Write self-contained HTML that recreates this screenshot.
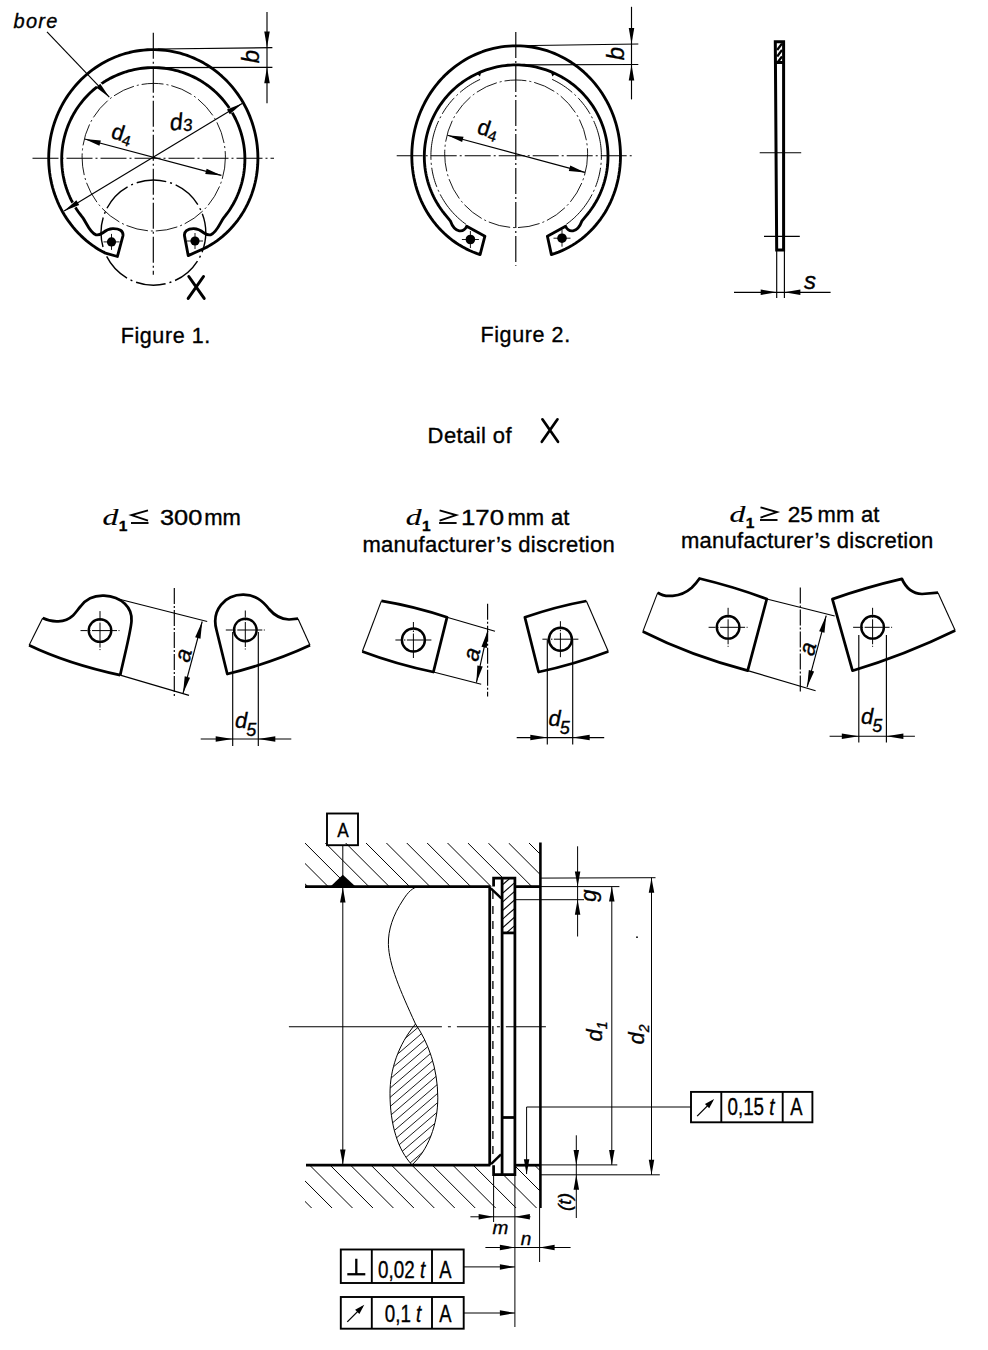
<!DOCTYPE html>
<html><head><meta charset="utf-8"><style>
html,body{margin:0;padding:0;background:#fff;}
svg{display:block;}
text{fill:#000;stroke:#000;stroke-width:0.35px;}
</style></head><body>
<svg width="988" height="1350" viewBox="0 0 988 1350">
<rect width="988" height="1350" fill="#fff"/>
<line x1="153.3" y1="32.8" x2="153.3" y2="274.7" stroke="#000" stroke-width="1.15" stroke-dasharray="26 3 2 3"/>
<line x1="32.5" y1="158.2" x2="274" y2="158.2" stroke="#000" stroke-width="1.15" stroke-dasharray="26 3 2 3"/>
<ellipse cx="153.75" cy="157.2" rx="71.65" ry="73.8" fill="none" stroke="#000" stroke-width="0.9" stroke-dasharray="22 3 2 3"/>
<ellipse cx="153.4" cy="232.6" rx="52.4" ry="52.6" fill="none" stroke="#000" stroke-width="1.4" stroke-dasharray="30 4 2 4" stroke-dashoffset="10"/>
<path d="M204.6,248.3 L204.6,248.3 L207.76,246.62 L210.86,244.81 L213.9,242.88 L216.88,240.82 L219.78,238.64 L222.6,236.34 L225.35,233.93 L228.01,231.4 L230.58,228.77 L233.05,226.03 L235.43,223.2 L237.71,220.27 L239.88,217.24 L241.93,214.13 L243.88,210.94 L245.71,207.67 L247.42,204.32 L249.01,200.91 L250.48,197.43 L251.82,193.9 L253.03,190.31 L254.1,186.68 L255.05,183 L255.86,179.29 L256.53,175.55 L257.07,171.79 L257.47,168 L257.74,164.21 L257.88,160.4 L257.89,156.6 L257.77,152.79 L257.52,148.99 L257.15,145.21 L256.65,141.43 L256.02,137.68 L255.26,133.96 L254.38,130.26 L253.37,126.6 L252.25,122.98 L251,119.4 L249.63,115.87 L248.14,112.39 L246.53,108.97 L244.81,105.61 L242.98,102.31 L241.04,99.08 L238.99,95.92 L236.84,92.84 L234.58,89.84 L232.22,86.93 L229.77,84.1 L227.22,81.36 L224.58,78.72 L221.85,76.17 L219.04,73.73 L216.15,71.39 L213.18,69.16 L210.14,67.03 L207.02,65.02 L203.85,63.12 L200.6,61.34 L197.31,59.68 L193.95,58.14 L190.55,56.72 L187.1,55.43 L183.61,54.26 L180.08,53.22 L176.52,52.31 L172.93,51.53 L169.32,50.88 L165.69,50.36 L162.04,49.98 L158.38,49.73 L154.72,49.61 L151.05,49.63 L147.39,49.77 L143.73,50.06 L140.08,50.47 L136.46,51.02 L132.85,51.7 L129.27,52.51 L125.71,53.45 L122.19,54.51 L118.71,55.71 L115.27,57.03 L111.88,58.48 L108.54,60.05 L105.25,61.73 L102.03,63.54 L98.86,65.47 L95.77,67.5 L92.74,69.65 L89.79,71.91 L86.91,74.28 L84.12,76.74 L81.41,79.31 L78.79,81.98 L76.27,84.73 L73.83,87.58 L71.5,90.52 L69.26,93.53 L67.13,96.63 L65.11,99.81 L63.19,103.05 L61.38,106.36 L59.69,109.74 L58.11,113.18 L56.65,116.67 L55.31,120.21 L54.09,123.8 L52.99,127.43 L52.01,131.1 L51.16,134.8 L50.43,138.53 L49.83,142.29 L49.36,146.07 L49.01,149.86 L48.79,153.66 L48.7,157.46 L48.74,161.27 L48.91,165.07 L49.21,168.87 L49.63,172.65 L50.18,176.41 L50.87,180.15 L51.68,183.86 L52.62,187.54 L53.69,191.18 L54.88,194.78 L56.2,198.33 L57.63,201.83 L59.19,205.27 L60.87,208.65 L62.66,211.96 L64.57,215.2 L66.58,218.37 L68.71,221.46 L70.93,224.47 L73.26,227.39 L75.69,230.22 L78.22,232.95 L80.83,235.59 L83.53,238.13 L86.32,240.56 L89.19,242.89 L92.14,245.1 L95.15,247.2 L98.24,249.19 L101.39,251.05 L104.6,252.8 L117.4,256.5 L122.9,236 C123.8,230.5 119,228.6 112.8,228.7 C108,228.8 105,231 102.8,232.8 C101,234 99,235.5 96,234.8 C90,233 86,222 83.1,218.1 L83.13,218.08 L81.38,215.93 L79.7,213.73 L78.08,211.48 L76.54,209.18 L75.06,206.83 L73.65,204.45 L72.32,202.02 L71.06,199.55 L69.88,197.04 L68.77,194.5 L67.75,191.93 L66.8,189.32 L65.92,186.69 L65.13,184.04 L64.42,181.36 L63.79,178.66 L63.24,175.95 L62.78,173.21 L62.4,170.47 L62.1,167.71 L61.88,164.95 L61.75,162.18 L61.7,159.41 L61.74,156.64 L61.85,153.87 L62.06,151.11 L62.34,148.35 L62.71,145.61 L63.17,142.87 L63.7,140.16 L64.32,137.45 L65.02,134.77 L65.8,132.11 L66.66,129.48 L67.59,126.87 L68.61,124.29 L69.71,121.75 L70.88,119.24 L72.12,116.76 L73.44,114.33 L74.84,111.93 L76.3,109.58 L77.84,107.27 L79.45,105.01 L81.12,102.81 L82.86,100.65 L84.66,98.54 L86.53,96.5 L88.45,94.5 L90.44,92.57 L92.48,90.7 L94.58,88.89 L96.74,87.15 L98.94,85.47 L101.2,83.86 L103.5,82.32 L105.85,80.85 L108.24,79.45 L110.67,78.12 L113.15,76.87 L115.65,75.69 L118.2,74.59 L120.77,73.57 L123.38,72.63 L126.01,71.76 L128.67,70.97 L131.35,70.27 L134.05,69.65 L136.76,69.1 L139.5,68.65 L142.24,68.27 L145,67.98 L147.76,67.77 L150.53,67.64 L153.3,67.6 L156.07,67.64 L158.84,67.77 L161.6,67.98 L164.36,68.27 L167.1,68.65 L169.84,69.1 L172.55,69.65 L175.25,70.27 L177.93,70.97 L180.59,71.76 L183.22,72.63 L185.83,73.57 L188.4,74.59 L190.95,75.69 L193.45,76.87 L195.93,78.12 L198.36,79.45 L200.75,80.85 L203.1,82.32 L205.4,83.86 L207.66,85.47 L209.86,87.15 L212.02,88.89 L214.12,90.7 L216.16,92.57 L218.15,94.5 L220.07,96.5 L221.94,98.54 L223.74,100.65 L225.48,102.81 L227.15,105.01 L228.76,107.27 L230.3,109.58 L231.76,111.93 L233.16,114.33 L234.48,116.76 L235.72,119.24 L236.89,121.75 L237.99,124.29 L239.01,126.87 L239.94,129.48 L240.8,132.11 L241.58,134.77 L242.28,137.45 L242.9,140.16 L243.43,142.87 L243.89,145.61 L244.26,148.35 L244.54,151.11 L244.75,153.87 L244.86,156.64 L244.9,159.41 L244.85,162.18 L244.72,164.95 L244.5,167.71 L244.2,170.47 L243.82,173.21 L243.36,175.95 L242.81,178.66 L242.18,181.36 L241.47,184.04 L240.68,186.69 L239.8,189.32 L238.85,191.93 L237.83,194.5 L236.72,197.04 L235.54,199.55 L234.28,202.02 L232.95,204.45 L231.54,206.83 L230.06,209.18 L228.52,211.48 L226.9,213.73 L225.22,215.93 L223.47,218.08 C220.6,222 216.6,233 210.6,234.8 C207.6,235.5 205.6,234 203.8,232.8 C201.6,231 198.6,228.8 193.8,228.7 C187.6,228.6 183.6,231.5 184.6,236.4 L188.2,255.6 Z" fill="none" stroke="#000" stroke-width="2.85" stroke-linejoin="round"/>
<circle cx="111.5" cy="241.9" r="4.6" fill="#000"/>
<line x1="103.5" y1="241.9" x2="119.5" y2="241.9" stroke="#000" stroke-width="0.9"/>
<line x1="111.5" y1="233.9" x2="111.5" y2="249.9" stroke="#000" stroke-width="0.9"/>
<circle cx="195" cy="241" r="4.6" fill="#000"/>
<line x1="187" y1="241" x2="203" y2="241" stroke="#000" stroke-width="0.9"/>
<line x1="195" y1="233" x2="195" y2="249" stroke="#000" stroke-width="0.9"/>
<line x1="105.1" y1="91.2" x2="95.3" y2="81.2" stroke="#fff" stroke-width="5.5"/>
<line x1="66.01" y1="209.92" x2="77.99" y2="202.68" stroke="#fff" stroke-width="5.5"/>
<line x1="235.79" y1="107.38" x2="223.81" y2="114.62" stroke="#fff" stroke-width="5.5"/>
<line x1="47" y1="31.9" x2="109.3" y2="97.2" stroke="#000" stroke-width="1.15"/>
<polygon points="109.3,97.2 100.25,83.73 96.27,87.52" fill="#000" stroke="none" stroke-width="0"/>
<line x1="84.7" y1="139" x2="221.4" y2="175.4" stroke="#000" stroke-width="1.15"/>
<polygon points="84.7,139 99.45,145.77 100.87,140.46" fill="#000" stroke="none" stroke-width="0"/>
<polygon points="221.4,175.4 206.65,168.63 205.23,173.94" fill="#000" stroke="none" stroke-width="0"/>
<line x1="64.1" y1="211" x2="242.1" y2="103.5" stroke="#000" stroke-width="1.15"/>
<polygon points="64.1,211 79.22,205.08 76.37,200.37" fill="#000" stroke="none" stroke-width="0"/>
<polygon points="242.1,103.5 226.98,109.42 229.83,114.13" fill="#000" stroke="none" stroke-width="0"/>
<line x1="158" y1="49" x2="272.4" y2="47.6" stroke="#000" stroke-width="1.15"/>
<line x1="160" y1="67.6" x2="272.4" y2="67.3" stroke="#000" stroke-width="1.15"/>
<line x1="267" y1="12.1" x2="267" y2="103.2" stroke="#000" stroke-width="1.15"/>
<polygon points="267,47.6 269.75,31.6 264.25,31.6" fill="#000" stroke="none" stroke-width="0"/>
<polygon points="267,67.3 264.25,83.3 269.75,83.3" fill="#000" stroke="none" stroke-width="0"/>
<text x="0" y="0" font-family="Liberation Sans" font-size="24" text-anchor="middle" style="font-style:italic" transform="translate(259,56.5) rotate(-90)">b</text>
<text x="0" y="0" font-family="Liberation Sans" font-size="22" text-anchor="start" style="" transform="translate(110,137.5) rotate(18)">d<tspan font-size="15" dy="3">4</tspan></text>
<text x="0" y="0" font-family="Liberation Sans" font-size="23" text-anchor="start" style="font-style:italic" transform="translate(170.5,130.5) rotate(-6)">d<tspan font-size="17" dy="2">3</tspan></text>
<text x="13.5" y="28" font-family="Liberation Sans" font-size="20" text-anchor="start" style="font-style:italic;letter-spacing:1.3px" >bore</text>
<path d="M188.8,276.5 L204.2,298.4 M203.5,276.5 L188.2,298.4" stroke="#000" stroke-width="3" stroke-linecap="round" fill="none"/>
<line x1="515.8" y1="31.9" x2="515.8" y2="265.8" stroke="#000" stroke-width="1.15" stroke-dasharray="26 3 2 3"/>
<line x1="396.7" y1="155.7" x2="634.3" y2="155.7" stroke="#000" stroke-width="1.15" stroke-dasharray="26 3 2 3"/>
<ellipse cx="516.15" cy="153.8" rx="71.45" ry="73.8" fill="none" stroke="#000" stroke-width="0.9" stroke-dasharray="22 3 2 3"/>
<path d="M551.39,254.58 L551.39,254.58 L554.96,253.42 L558.49,252.11 L561.98,250.65 L565.41,249.04 L568.79,247.28 L572.11,245.38 L575.35,243.33 L578.53,241.14 L581.62,238.81 L584.63,236.36 L587.55,233.77 L590.37,231.06 L593.09,228.22 L595.7,225.27 L598.21,222.21 L600.6,219.04 L602.86,215.77 L605.01,212.41 L607.02,208.95 L608.91,205.41 L610.66,201.79 L612.27,198.09 L613.74,194.33 L615.07,190.51 L616.26,186.64 L617.29,182.72 L618.18,178.75 L618.92,174.76 L619.52,170.74 L619.98,166.69 L620.29,162.63 L620.46,158.57 L620.49,154.5 L620.38,150.43 L620.12,146.36 L619.72,142.31 L619.18,138.28 L618.5,134.27 L617.67,130.3 L616.71,126.35 L615.61,122.45 L614.37,118.59 L613,114.79 L611.49,111.04 L609.86,107.35 L608.09,103.72 L606.2,100.17 L604.19,96.7 L602.05,93.3 L599.8,90 L597.43,86.78 L594.95,83.65 L592.36,80.63 L589.67,77.71 L586.88,74.89 L583.98,72.19 L581,69.6 L577.93,67.13 L574.77,64.78 L571.53,62.56 L568.22,60.46 L564.83,58.49 L561.38,56.66 L557.87,54.96 L554.3,53.41 L550.67,51.99 L547,50.71 L543.29,49.58 L539.54,48.6 L535.75,47.76 L531.94,47.07 L528.11,46.52 L524.26,46.13 L520.4,45.89 L516.54,45.8 L512.67,45.86 L508.81,46.07 L504.96,46.43 L501.13,46.95 L497.31,47.61 L493.52,48.41 L489.76,49.37 L486.04,50.47 L482.36,51.72 L478.73,53.11 L475.15,54.64 L471.62,56.31 L468.16,58.11 L464.76,60.05 L461.43,62.12 L458.17,64.32 L455,66.65 L451.91,69.09 L448.91,71.66 L446,74.34 L443.18,77.13 L440.47,80.03 L437.86,83.04 L435.36,86.14 L432.97,89.34 L430.69,92.63 L428.53,96.01 L426.49,99.47 L424.58,103.01 L422.79,106.61 L421.12,110.29 L419.59,114.03 L418.19,117.82 L416.93,121.67 L415.8,125.57 L414.81,129.5 L413.96,133.47 L413.24,137.47 L412.67,141.5 L412.25,145.55 L411.96,149.61 L411.82,153.68 L411.82,157.75 L411.96,161.82 L412.25,165.88 L412.68,169.92 L413.25,173.95 L413.96,177.95 L414.82,181.92 L415.83,185.85 L416.98,189.74 L418.28,193.57 L419.72,197.34 L421.3,201.05 L423.02,204.69 L424.88,208.25 L426.86,211.73 L428.98,215.12 L431.22,218.41 L433.58,221.61 L436.05,224.7 L438.64,227.68 L441.33,230.54 L444.12,233.29 L447.02,235.91 L450,238.41 L453.07,240.78 L456.23,243.01 L459.46,245.1 L462.76,247.05 L466.12,248.86 L469.54,250.52 L473.02,252.03 L476.54,253.4 L480.1,254.61 L484.9,236.2 L466.7,226.3 C464,232.5 455,234 450.3,220.8 L445.8,215.4 L445.79,215.38 L444.04,213.23 L442.35,211.03 L440.73,208.78 L439.18,206.48 L437.7,204.13 L436.29,201.75 L434.95,199.32 L433.69,196.85 L432.5,194.34 L431.39,191.8 L430.36,189.23 L429.41,186.62 L428.54,183.99 L427.74,181.34 L427.03,178.66 L426.4,175.96 L425.85,173.25 L425.38,170.51 L425,167.77 L424.7,165.01 L424.48,162.25 L424.35,159.48 L424.3,156.71 L424.34,153.94 L424.46,151.17 L424.66,148.41 L424.95,145.65 L425.32,142.91 L425.77,140.17 L426.31,137.46 L426.93,134.75 L427.63,132.07 L428.41,129.41 L429.27,126.78 L430.21,124.17 L431.23,121.59 L432.33,119.05 L433.5,116.54 L434.75,114.06 L436.08,111.63 L437.47,109.23 L438.94,106.88 L440.48,104.57 L442.09,102.31 L443.77,100.11 L445.51,97.95 L447.32,95.84 L449.19,93.8 L451.13,91.8 L453.12,89.87 L455.17,88 L457.27,86.19 L459.43,84.45 L461.64,82.77 L463.91,81.16 L466.21,79.62 L468.57,78.15 L470.97,76.75 L473.41,75.42 L475.89,74.17 L478.4,72.99 L480.95,71.89 L483.53,70.87 L486.15,69.93 L488.79,69.06 L491.45,68.27 L494.14,67.57 L496.84,66.95 L499.57,66.4 L502.31,65.95 L505.06,65.57 L507.83,65.28 L510.6,65.07 L513.37,64.94 L516.15,64.9 L518.93,64.94 L521.7,65.07 L524.47,65.28 L527.24,65.57 L529.99,65.95 L532.73,66.4 L535.46,66.95 L538.16,67.57 L540.85,68.27 L543.51,69.06 L546.15,69.93 L548.77,70.87 L551.35,71.89 L553.9,72.99 L556.41,74.17 L558.89,75.42 L561.33,76.75 L563.73,78.15 L566.09,79.62 L568.39,81.16 L570.66,82.77 L572.87,84.45 L575.03,86.19 L577.13,88 L579.18,89.87 L581.17,91.8 L583.11,93.8 L584.98,95.84 L586.79,97.95 L588.53,100.11 L590.21,102.31 L591.82,104.57 L593.36,106.88 L594.83,109.23 L596.22,111.63 L597.55,114.06 L598.8,116.54 L599.97,119.05 L601.07,121.59 L602.09,124.17 L603.03,126.78 L603.89,129.41 L604.67,132.07 L605.37,134.75 L605.99,137.46 L606.53,140.17 L606.98,142.91 L607.35,145.65 L607.64,148.41 L607.84,151.17 L607.96,153.94 L608,156.71 L607.95,159.48 L607.82,162.25 L607.6,165.01 L607.3,167.77 L606.92,170.51 L606.45,173.25 L605.9,175.96 L605.27,178.66 L604.56,181.34 L603.76,183.99 L602.89,186.62 L601.94,189.23 L600.91,191.8 L599.8,194.34 L598.61,196.85 L597.35,199.32 L596.01,201.75 L594.6,204.13 L593.12,206.48 L591.57,208.78 L589.95,211.03 L588.26,213.23 L586.51,215.38 L582,220.8 C577.3,234 568.3,232.5 565.6,226.3 L547.4,236.2 Z" fill="none" stroke="#000" stroke-width="2.85" stroke-linejoin="round"/>
<path d="M466.04,224.36 L464.27,223.05 L462.53,221.69 L460.83,220.29 L459.16,218.85 L457.54,217.36 L455.95,215.83 L454.4,214.26 L452.9,212.65 L451.43,211 L450.02,209.32 L448.64,207.6 L447.31,205.85 L446.03,204.06 L444.8,202.24 L443.61,200.39 L442.47,198.51 L441.38,196.6 L440.34,194.66 L439.36,192.69 L438.42,190.71 L437.54,188.69 L436.71,186.66 L435.93,184.61 L435.21,182.53 L434.54,180.44 L433.93,178.33 L433.37,176.21 L432.87,174.07 L432.43,171.92 L432.04,169.76 L431.71,167.6 L431.43,165.42 L431.21,163.24 L431.05,161.05 L430.95,158.86 L430.9,156.66 L430.91,154.47 L430.98,152.28 L431.11,150.09 L431.29,147.9 L431.53,145.72 L431.83,143.55 L432.19,141.38 L432.6,139.23 L433.06,137.08 L433.59,134.95 L434.17,132.83 L434.8,130.73 L435.49,128.65 L436.23,126.58 L437.03,124.53 L437.88,122.51 L438.79,120.51 L439.74,118.53 L440.75,116.57 L441.81,114.65 L442.91,112.75 L444.07,110.88 L445.28,109.04 L446.53,107.23 L447.83,105.46 L449.18,103.72 L450.57,102.01 L452.01,100.34 L453.49,98.71 L455.01,97.12 L456.57,95.56 L458.17,94.05 L459.82,92.58 L461.49,91.15 L463.21,89.77 L464.96,88.43 L466.75,87.13 L468.57,85.88 L470.42,84.68 L472.31,83.53 L474.22,82.43 L476.16,81.37 L478.13,80.37 L480.12,79.42" fill="none" stroke="#000" stroke-width="0.95" stroke-dasharray="40 3 2 3 20 3 2 3" />
<path d="M566.26,224.36 L568.03,223.05 L569.77,221.69 L571.47,220.29 L573.14,218.85 L574.76,217.36 L576.35,215.83 L577.9,214.26 L579.4,212.65 L580.87,211 L582.28,209.32 L583.66,207.6 L584.99,205.85 L586.27,204.06 L587.5,202.24 L588.69,200.39 L589.83,198.51 L590.92,196.6 L591.96,194.66 L592.94,192.69 L593.88,190.71 L594.76,188.69 L595.59,186.66 L596.37,184.61 L597.09,182.53 L597.76,180.44 L598.37,178.33 L598.93,176.21 L599.43,174.07 L599.87,171.92 L600.26,169.76 L600.59,167.6 L600.87,165.42 L601.09,163.24 L601.25,161.05 L601.35,158.86 L601.4,156.66 L601.39,154.47 L601.32,152.28 L601.19,150.09 L601.01,147.9 L600.77,145.72 L600.47,143.55 L600.11,141.38 L599.7,139.23 L599.24,137.08 L598.71,134.95 L598.13,132.83 L597.5,130.73 L596.81,128.65 L596.07,126.58 L595.27,124.53 L594.42,122.51 L593.51,120.51 L592.56,118.53 L591.55,116.57 L590.49,114.65 L589.39,112.75 L588.23,110.88 L587.02,109.04 L585.77,107.23 L584.47,105.46 L583.12,103.72 L581.73,102.01 L580.29,100.34 L578.81,98.71 L577.29,97.12 L575.73,95.56 L574.13,94.05 L572.48,92.58 L570.81,91.15 L569.09,89.77 L567.34,88.43 L565.55,87.13 L563.73,85.88 L561.88,84.68 L559.99,83.53 L558.08,82.43 L556.14,81.37 L554.17,80.37 L552.18,79.42" fill="none" stroke="#000" stroke-width="0.95" stroke-dasharray="40 3 2 3 20 3 2 3" />
<polygon points="476.5,73.2 481.5,71.2 480,76.5" fill="#000" stroke="none" stroke-width="0"/>
<polygon points="555.8,73.2 550.8,71.2 552.3,76.5" fill="#000" stroke="none" stroke-width="0"/>
<circle cx="470.4" cy="239.5" r="4.8" fill="#000"/>
<line x1="461.9" y1="239.5" x2="478.9" y2="239.5" stroke="#000" stroke-width="0.9"/>
<line x1="470.4" y1="231" x2="470.4" y2="248" stroke="#000" stroke-width="0.9"/>
<circle cx="562" cy="238.2" r="4.8" fill="#000"/>
<line x1="553.5" y1="238.2" x2="570.5" y2="238.2" stroke="#000" stroke-width="0.9"/>
<line x1="562" y1="229.7" x2="562" y2="246.7" stroke="#000" stroke-width="0.9"/>
<line x1="447.4" y1="135.3" x2="585" y2="172.4" stroke="#000" stroke-width="1.15"/>
<polygon points="447.4,135.3 462.13,142.12 463.56,136.81" fill="#000" stroke="none" stroke-width="0"/>
<polygon points="585,172.4 570.27,165.58 568.84,170.89" fill="#000" stroke="none" stroke-width="0"/>
<line x1="516" y1="45.8" x2="638.3" y2="44" stroke="#000" stroke-width="1.15"/>
<line x1="516" y1="64.9" x2="638.3" y2="64.5" stroke="#000" stroke-width="1.15"/>
<line x1="631.5" y1="6.8" x2="631.5" y2="99.4" stroke="#000" stroke-width="1.15"/>
<polygon points="631.5,44 634.25,28 628.75,28" fill="#000" stroke="none" stroke-width="0"/>
<polygon points="631.5,64.5 628.75,80.5 634.25,80.5" fill="#000" stroke="none" stroke-width="0"/>
<text x="0" y="0" font-family="Liberation Sans" font-size="24" text-anchor="middle" style="font-style:italic" transform="translate(624,53.5) rotate(-90)">b</text>
<text x="0" y="0" font-family="Liberation Sans" font-size="22" text-anchor="start" style="" transform="translate(476,133) rotate(18)">d<tspan font-size="15" dy="3">4</tspan></text>
<path d="M775.3,41.8 L783.6,41.8 L783.6,250 L776.7,250 Z" fill="none" stroke="#000" stroke-width="3.0" stroke-linejoin="miter"/>
<line x1="775.5" y1="62.5" x2="783.6" y2="62.5" stroke="#000" stroke-width="3.0"/>
<line x1="777.2" y1="50" x2="782" y2="43.5" stroke="#000" stroke-width="2.2"/>
<line x1="777.2" y1="56.5" x2="782" y2="50" stroke="#000" stroke-width="2.2"/>
<line x1="777.2" y1="63" x2="782" y2="56.5" stroke="#000" stroke-width="2.2"/>
<line x1="759.7" y1="152.7" x2="801.2" y2="152.7" stroke="#000" stroke-width="1.15"/>
<line x1="764" y1="236.3" x2="799.8" y2="236.3" stroke="#000" stroke-width="1.15"/>
<line x1="776.7" y1="251" x2="776.7" y2="298" stroke="#000" stroke-width="1.15"/>
<line x1="784.4" y1="251" x2="784.4" y2="298" stroke="#000" stroke-width="1.15"/>
<line x1="734" y1="292.3" x2="830.6" y2="292.3" stroke="#000" stroke-width="1.15"/>
<polygon points="776.7,292.3 760.7,289.55 760.7,295.05" fill="#000" stroke="none" stroke-width="0"/>
<polygon points="784.4,292.3 800.4,295.05 800.4,289.55" fill="#000" stroke="none" stroke-width="0"/>
<text x="804" y="289" font-family="Liberation Sans" font-size="24" text-anchor="start" style="font-style:italic" >s</text>
<text x="120.7" y="343.4" font-family="Liberation Sans" font-size="21.5" text-anchor="start" style="letter-spacing:0.6px" >Figure 1.</text>
<text x="480.5" y="341.8" font-family="Liberation Sans" font-size="21.5" text-anchor="start" style="letter-spacing:0.6px" >Figure 2.</text>
<text x="427.6" y="442.9" font-family="Liberation Sans" font-size="22" text-anchor="start" style="letter-spacing:0.4px" >Detail of</text>
<path d="M542.4,419.3 L558,441.8 M557.5,419.3 L541.8,441.8" stroke="#000" stroke-width="2.7" stroke-linecap="round" fill="none"/>
<text x="0" y="0" font-family="Liberation Serif" font-style="italic" font-size="23.5" style="stroke-width:0.15px" transform="translate(102.5,524.6) scale(1.35,1)">d</text>
<text x="118.8" y="530.6" font-family="Liberation Sans" font-weight="bold" font-size="15.5">1</text>
<text x="0" y="0" font-family="Liberation Sans" font-size="21.5" transform="translate(160,524.6) scale(1.18,1)">300</text>
<text x="204.2" y="524.6" font-family="Liberation Sans" font-size="22">mm</text>
<path d="M148,510.3 L131.5,515.1 L148,520.6" fill="none" stroke="#000" stroke-width="1.9" />
<line x1="131" y1="523" x2="148.5" y2="523" stroke="#000" stroke-width="1.9"/>
<text x="0" y="0" font-family="Liberation Serif" font-style="italic" font-size="23.5" style="stroke-width:0.15px" transform="translate(405.7,524.6) scale(1.35,1)">d</text>
<text x="422" y="530.6" font-family="Liberation Sans" font-weight="bold" font-size="15.5">1</text>
<text x="0" y="0" font-family="Liberation Sans" font-size="21.5" transform="translate(461,524.6) scale(1.2,1)">170</text>
<text x="507.5" y="524.6" font-family="Liberation Sans" font-size="22">mm</text>
<text x="551" y="524.6" font-family="Liberation Sans" font-size="22">at</text>
<path d="M439.6,510.3 L456.1,515.1 L439.6,520.6" fill="none" stroke="#000" stroke-width="1.9" />
<line x1="439.1" y1="523" x2="456.6" y2="523" stroke="#000" stroke-width="1.9"/>
<text x="362.5" y="551.8" font-family="Liberation Sans" font-size="22" text-anchor="start" style="letter-spacing:0.25px" >manufacturer’s discretion</text>
<text x="0" y="0" font-family="Liberation Serif" font-style="italic" font-size="23.5" style="stroke-width:0.15px" transform="translate(729.4,521.6) scale(1.35,1)">d</text>
<text x="745.7" y="527.6" font-family="Liberation Sans" font-weight="bold" font-size="15.5">1</text>
<text x="0" y="0" font-family="Liberation Sans" font-size="21.5" transform="translate(787.8,521.6) scale(1.05,1)">25</text>
<text x="817.6" y="521.6" font-family="Liberation Sans" font-size="22">mm</text>
<text x="861" y="521.6" font-family="Liberation Sans" font-size="22">at</text>
<path d="M760.5,507.3 L777,512.1 L760.5,517.6" fill="none" stroke="#000" stroke-width="1.9" />
<line x1="760" y1="520" x2="777.5" y2="520" stroke="#000" stroke-width="1.9"/>
<text x="681" y="547.7" font-family="Liberation Sans" font-size="22" text-anchor="start" style="letter-spacing:0.25px" >manufacturer’s discretion</text>
<path d="M120.2,675.1 C92,669 60,660 29.1,645.2" fill="none" stroke="#000" stroke-width="2.75" />
<path d="M29.1,645.2 L42.7,618.1" fill="none" stroke="#000" stroke-width="1.1" />
<path d="M42.7,618.1 C52,622.8 65,623 73,615.5 C76,612.5 78.5,608.5 80.7,606.3 C87,597.5 96,595.3 104,595.6 C122,596.5 132.5,608 131.5,621 C131,630 127,645 120.2,675.1" fill="none" stroke="#000" stroke-width="2.75" stroke-linejoin="round"/>
<circle cx="100" cy="630.6" r="11.3" fill="none" stroke="#000" stroke-width="2.4"/>
<line x1="80.5" y1="630.6" x2="119.5" y2="630.6" stroke="#000" stroke-width="1.0" stroke-dasharray="7 1.5 1.5 1.5 25 1.5 1.5 1.5"/>
<line x1="100" y1="611.1" x2="100" y2="650.1" stroke="#000" stroke-width="1.0" stroke-dasharray="7 1.5 1.5 1.5 25 1.5 1.5 1.5"/>
<line x1="117.5" y1="598.8" x2="207.2" y2="621.5" stroke="#000" stroke-width="1.15"/>
<line x1="120.2" y1="675.1" x2="189" y2="695.4" stroke="#000" stroke-width="1.15"/>
<line x1="202.2" y1="621.5" x2="183" y2="693.4" stroke="#000" stroke-width="1.15"/>
<polygon points="202.2,621.5 195.16,637.21 200.47,638.63" fill="#000" stroke="none" stroke-width="0"/>
<polygon points="183,693.4 190.04,677.69 184.73,676.27" fill="#000" stroke="none" stroke-width="0"/>
<line x1="174.3" y1="588" x2="174.3" y2="697.4" stroke="#000" stroke-width="1.15" stroke-dasharray="16 2 2 2"/>
<text x="0" y="0" font-family="Liberation Sans" font-style="italic" font-size="23" text-anchor="middle" transform="translate(190.5,657) rotate(-76)">a</text>
<path d="M298,618.7 L310,645.3" fill="none" stroke="#000" stroke-width="1.1" />
<path d="M310,645.3 C285,657 255,667 227.3,674 L216.5,630 C211,610 225,594.5 243.5,594.7 C255,595 262,600 269,609 C274,615 280,619 289,619.5 L298,618.7" fill="none" stroke="#000" stroke-width="2.75" stroke-linejoin="round"/>
<circle cx="245.3" cy="630" r="11.3" fill="none" stroke="#000" stroke-width="2.4"/>
<line x1="225.8" y1="630" x2="264.8" y2="630" stroke="#000" stroke-width="1.0" stroke-dasharray="7 1.5 1.5 1.5 25 1.5 1.5 1.5"/>
<line x1="245.3" y1="610.5" x2="245.3" y2="649.5" stroke="#000" stroke-width="1.0" stroke-dasharray="7 1.5 1.5 1.5 25 1.5 1.5 1.5"/>
<line x1="232.7" y1="632" x2="232.7" y2="746" stroke="#000" stroke-width="1.15"/>
<line x1="258.3" y1="632" x2="258.3" y2="746" stroke="#000" stroke-width="1.15"/>
<line x1="200.7" y1="739" x2="291.3" y2="739" stroke="#000" stroke-width="1.15"/>
<polygon points="232.7,739 215.7,736.25 215.7,741.75" fill="#000" stroke="none" stroke-width="0"/>
<polygon points="258.3,739 275.3,741.75 275.3,736.25" fill="#000" stroke="none" stroke-width="0"/>
<text x="235" y="727.5" font-family="Liberation Sans" font-style="italic" font-size="22">d<tspan font-size="18" dy="8" dx="-1">5</tspan></text>
<path d="M362.3,651.5 L381.4,600.9" fill="none" stroke="#000" stroke-width="1.1" />
<path d="M381.4,600.9 Q415,606.5 447,617.3 L433.4,672 Q397,664.5 362.3,651.5" fill="none" stroke="#000" stroke-width="2.75" stroke-linejoin="round"/>
<circle cx="413.4" cy="640" r="11.5" fill="none" stroke="#000" stroke-width="2.4"/>
<line x1="395.4" y1="640" x2="431.4" y2="640" stroke="#000" stroke-width="1.0" stroke-dasharray="7 1.5 1.5 1.5 25 1.5 1.5 1.5"/>
<line x1="413.4" y1="622" x2="413.4" y2="658" stroke="#000" stroke-width="1.0" stroke-dasharray="7 1.5 1.5 1.5 25 1.5 1.5 1.5"/>
<line x1="447" y1="617.3" x2="495" y2="631.3" stroke="#000" stroke-width="1.15"/>
<line x1="433.4" y1="672" x2="481.2" y2="684.3" stroke="#000" stroke-width="1.15"/>
<line x1="487.8" y1="630.8" x2="476.4" y2="682.6" stroke="#000" stroke-width="1.15"/>
<polygon points="487.8,630.8 481.46,646.81 486.83,647.99" fill="#000" stroke="none" stroke-width="0"/>
<polygon points="476.4,682.6 482.74,666.59 477.37,665.41" fill="#000" stroke="none" stroke-width="0"/>
<line x1="487.6" y1="603.7" x2="487.6" y2="696.6" stroke="#000" stroke-width="1.15" stroke-dasharray="16 2 2 2"/>
<text x="0" y="0" font-family="Liberation Sans" font-style="italic" font-size="23" text-anchor="middle" transform="translate(479,656) rotate(-76)">a</text>
<path d="M586.4,601 L608.3,651.5" fill="none" stroke="#000" stroke-width="1.1" />
<path d="M608.3,651.5 Q574,664.5 538.6,672 L524.9,617.3 Q556,606.5 586.4,601" fill="none" stroke="#000" stroke-width="2.75" stroke-linejoin="round"/>
<circle cx="560.4" cy="639.2" r="11.5" fill="none" stroke="#000" stroke-width="2.4"/>
<line x1="542.4" y1="639.2" x2="578.4" y2="639.2" stroke="#000" stroke-width="1.0" stroke-dasharray="7 1.5 1.5 1.5 25 1.5 1.5 1.5"/>
<line x1="560.4" y1="621.2" x2="560.4" y2="657.2" stroke="#000" stroke-width="1.0" stroke-dasharray="7 1.5 1.5 1.5 25 1.5 1.5 1.5"/>
<line x1="547.3" y1="640" x2="547.3" y2="744.4" stroke="#000" stroke-width="1.15"/>
<line x1="572.7" y1="640" x2="572.7" y2="744.4" stroke="#000" stroke-width="1.15"/>
<line x1="516.7" y1="737.6" x2="604.2" y2="737.6" stroke="#000" stroke-width="1.15"/>
<polygon points="547.3,737.6 530.3,734.85 530.3,740.35" fill="#000" stroke="none" stroke-width="0"/>
<polygon points="572.7,737.6 589.7,740.35 589.7,734.85" fill="#000" stroke="none" stroke-width="0"/>
<text x="548.5" y="726" font-family="Liberation Sans" font-style="italic" font-size="22">d<tspan font-size="18" dy="8" dx="-1">5</tspan></text>
<path d="M642.8,631.6 L657.7,592.6" fill="none" stroke="#000" stroke-width="1.1" />
<path d="M657.7,592.6 C664,597.5 680,598 691.7,587.7 C695,584.5 697.5,581.5 699.5,578.5 Q735,587 766.8,599 L747.7,670.6 Q691,656 642.8,631.6" fill="none" stroke="#000" stroke-width="2.75" stroke-linejoin="round"/>
<circle cx="728.1" cy="627.3" r="11.3" fill="none" stroke="#000" stroke-width="2.4"/>
<line x1="708.6" y1="627.3" x2="747.6" y2="627.3" stroke="#000" stroke-width="1.0" stroke-dasharray="7 1.5 1.5 1.5 25 1.5 1.5 1.5"/>
<line x1="728.1" y1="607.8" x2="728.1" y2="646.8" stroke="#000" stroke-width="1.0" stroke-dasharray="7 1.5 1.5 1.5 25 1.5 1.5 1.5"/>
<line x1="766.8" y1="599" x2="834.7" y2="616" stroke="#000" stroke-width="1.15"/>
<line x1="747.7" y1="670.6" x2="815.6" y2="690.7" stroke="#000" stroke-width="1.15"/>
<line x1="826.2" y1="615.6" x2="807.1" y2="687.1" stroke="#000" stroke-width="1.15"/>
<polygon points="826.2,615.6 819.16,631.31 824.47,632.73" fill="#000" stroke="none" stroke-width="0"/>
<polygon points="807.1,687.1 814.14,671.39 808.83,669.97" fill="#000" stroke="none" stroke-width="0"/>
<line x1="800.3" y1="587.5" x2="800.3" y2="692.5" stroke="#000" stroke-width="1.15" stroke-dasharray="16 2 2 2"/>
<text x="0" y="0" font-family="Liberation Sans" font-style="italic" font-size="23" text-anchor="middle" transform="translate(815,650.5) rotate(-76)">a</text>
<path d="M938,592.7 L955.2,630.5" fill="none" stroke="#000" stroke-width="1.1" />
<path d="M955.2,630.5 Q905,655 852.5,670.7 L832.4,599.1 Q867,587 901.9,578.9 C905,586 911,593.5 922,594 L938,592.7" fill="none" stroke="#000" stroke-width="2.75" stroke-linejoin="round"/>
<circle cx="872.6" cy="627.3" r="11.3" fill="none" stroke="#000" stroke-width="2.4"/>
<line x1="853.1" y1="627.3" x2="892.1" y2="627.3" stroke="#000" stroke-width="1.0" stroke-dasharray="7 1.5 1.5 1.5 25 1.5 1.5 1.5"/>
<line x1="872.6" y1="607.8" x2="872.6" y2="646.8" stroke="#000" stroke-width="1.0" stroke-dasharray="7 1.5 1.5 1.5 25 1.5 1.5 1.5"/>
<line x1="858.8" y1="635" x2="858.8" y2="742.4" stroke="#000" stroke-width="1.15"/>
<line x1="886.4" y1="635" x2="886.4" y2="742.4" stroke="#000" stroke-width="1.15"/>
<line x1="829.6" y1="736.2" x2="914.9" y2="736.2" stroke="#000" stroke-width="1.15"/>
<polygon points="858.8,736.2 841.8,733.45 841.8,738.95" fill="#000" stroke="none" stroke-width="0"/>
<polygon points="886.4,736.2 903.4,738.95 903.4,733.45" fill="#000" stroke="none" stroke-width="0"/>
<text x="861" y="724" font-family="Liberation Sans" font-style="italic" font-size="22">d<tspan font-size="18" dy="8" dx="-1">5</tspan></text>
<defs><clipPath id="hu"><path d="M305,843 L540,843 L540,886.6 L514.9,886.6 L514.9,878.1 L493.6,878.1 L493.6,886.6 L305,886.6 Z"/></clipPath><clipPath id="hl"><path d="M305,1165.2 L489.7,1165.2 L493.6,1165.2 L493.6,1174.6 L514.9,1174.6 L514.9,1165.2 L540,1165.2 L540,1208 L305,1208 Z"/></clipPath><clipPath id="hs1"><rect x="502.1" y="878.1" width="12.8" height="54.8"/></clipPath><clipPath id="hlens"><path d="M415.5,1024 C398,1045 390,1070 390,1093.3 C390,1125 398,1150 412,1164.9 C428,1150 437.8,1125 437.8,1097.8 C437.8,1068 428,1042 415.5,1024 Z"/></clipPath></defs>
<g clip-path="url(#hu)" stroke="#000" stroke-width="1.0"><line x1="590.11" y1="843" x2="634.11" y2="887" /><line x1="569.74" y1="843" x2="613.74" y2="887" /><line x1="549.37" y1="843" x2="593.37" y2="887" /><line x1="529" y1="843" x2="573" y2="887" /><line x1="508.63" y1="843" x2="552.63" y2="887" /><line x1="488.26" y1="843" x2="532.26" y2="887" /><line x1="467.89" y1="843" x2="511.89" y2="887" /><line x1="447.52" y1="843" x2="491.52" y2="887" /><line x1="427.15" y1="843" x2="471.15" y2="887" /><line x1="406.78" y1="843" x2="450.78" y2="887" /><line x1="386.41" y1="843" x2="430.41" y2="887" /><line x1="366.04" y1="843" x2="410.04" y2="887" /><line x1="345.67" y1="843" x2="389.67" y2="887" /><line x1="325.3" y1="843" x2="369.3" y2="887" /><line x1="304.93" y1="843" x2="348.93" y2="887" /><line x1="284.56" y1="843" x2="328.56" y2="887" /><line x1="264.19" y1="843" x2="308.19" y2="887" /><line x1="243.82" y1="843" x2="287.82" y2="887" /><line x1="223.45" y1="843" x2="267.45" y2="887" /></g>
<g clip-path="url(#hl)" stroke="#000" stroke-width="1.0"><line x1="243.15" y1="1160" x2="295.15" y2="1212" /><line x1="263.6" y1="1160" x2="315.6" y2="1212" /><line x1="284.05" y1="1160" x2="336.05" y2="1212" /><line x1="304.5" y1="1160" x2="356.5" y2="1212" /><line x1="324.95" y1="1160" x2="376.95" y2="1212" /><line x1="345.4" y1="1160" x2="397.4" y2="1212" /><line x1="365.85" y1="1160" x2="417.85" y2="1212" /><line x1="386.3" y1="1160" x2="438.3" y2="1212" /><line x1="406.75" y1="1160" x2="458.75" y2="1212" /><line x1="427.2" y1="1160" x2="479.2" y2="1212" /><line x1="447.65" y1="1160" x2="499.65" y2="1212" /><line x1="468.1" y1="1160" x2="520.1" y2="1212" /><line x1="488.55" y1="1160" x2="540.55" y2="1212" /><line x1="509" y1="1160" x2="561" y2="1212" /><line x1="529.45" y1="1160" x2="581.45" y2="1212" /><line x1="549.9" y1="1160" x2="601.9" y2="1212" /><line x1="570.35" y1="1160" x2="622.35" y2="1212" /><line x1="590.8" y1="1160" x2="642.8" y2="1212" /><line x1="611.25" y1="1160" x2="663.25" y2="1212" /></g>
<g clip-path="url(#hs1)" stroke="#000" stroke-width="1.1"><line x1="500" y1="887" x2="517" y2="872" /><line x1="500" y1="895.6" x2="517" y2="880.6" /><line x1="500" y1="904.2" x2="517" y2="889.2" /><line x1="500" y1="912.8" x2="517" y2="897.8" /><line x1="500" y1="921.4" x2="517" y2="906.4" /><line x1="500" y1="930" x2="517" y2="915" /><line x1="500" y1="938.6" x2="517" y2="923.6" /><line x1="500" y1="947.2" x2="517" y2="932.2" /><line x1="500" y1="955.8" x2="517" y2="940.8" /><line x1="500" y1="964.4" x2="517" y2="949.4" /><line x1="500" y1="973" x2="517" y2="958" /><line x1="500" y1="981.6" x2="517" y2="966.6" /></g>
<g clip-path="url(#hlens)" stroke="#000" stroke-width="0.9"><line x1="380" y1="1060" x2="450" y2="1000" /><line x1="380" y1="1069.2" x2="450" y2="1009.2" /><line x1="380" y1="1078.4" x2="450" y2="1018.4" /><line x1="380" y1="1087.6" x2="450" y2="1027.6" /><line x1="380" y1="1096.8" x2="450" y2="1036.8" /><line x1="380" y1="1106" x2="450" y2="1046" /><line x1="380" y1="1115.2" x2="450" y2="1055.2" /><line x1="380" y1="1124.4" x2="450" y2="1064.4" /><line x1="380" y1="1133.6" x2="450" y2="1073.6" /><line x1="380" y1="1142.8" x2="450" y2="1082.8" /><line x1="380" y1="1152" x2="450" y2="1092" /><line x1="380" y1="1161.2" x2="450" y2="1101.2" /><line x1="380" y1="1170.4" x2="450" y2="1110.4" /><line x1="380" y1="1179.6" x2="450" y2="1119.6" /><line x1="380" y1="1188.8" x2="450" y2="1128.8" /><line x1="380" y1="1198" x2="450" y2="1138" /><line x1="380" y1="1207.2" x2="450" y2="1147.2" /><line x1="380" y1="1216.4" x2="450" y2="1156.4" /><line x1="380" y1="1225.6" x2="450" y2="1165.6" /><line x1="380" y1="1234.8" x2="450" y2="1174.8" /></g>
<path d="M415.5,1024 C398,1045 390,1070 390,1093.3 C390,1125 398,1150 412,1164.9 C428,1150 437.8,1125 437.8,1097.8 C437.8,1068 428,1042 415.5,1024 Z" fill="none" stroke="#000" stroke-width="1.0" />
<path d="M419,886.8 C413,887 408,892 403,900 C393,915 388,930 388.4,944.4 C389,965 400,990 415.5,1024" fill="none" stroke="#000" stroke-width="1.0" />
<line x1="305" y1="886.6" x2="490.4" y2="886.6" stroke="#000" stroke-width="2.75"/>
<line x1="514.9" y1="886.6" x2="540.4" y2="886.6" stroke="#000" stroke-width="2.75"/>
<line x1="306" y1="1165.2" x2="490.4" y2="1165.2" stroke="#000" stroke-width="2.75"/>
<line x1="514.9" y1="1165.2" x2="540.4" y2="1165.2" stroke="#000" stroke-width="2.75"/>
<path d="M493.6,886.6 L493.6,878.1 L514.9,878.1 L514.9,1174.6 L493.6,1174.6 L493.6,1165.2" fill="none" stroke="#000" stroke-width="2.75" stroke-linejoin="miter"/>
<line x1="489.7" y1="886.6" x2="489.7" y2="1165.2" stroke="#000" stroke-width="2.75"/>
<line x1="502.1" y1="878.1" x2="502.1" y2="1174.6" stroke="#000" stroke-width="2.75"/>
<line x1="502.1" y1="932.9" x2="514.9" y2="932.9" stroke="#000" stroke-width="2.75"/>
<line x1="502.1" y1="1117.5" x2="514.9" y2="1117.5" stroke="#000" stroke-width="2.75"/>
<line x1="490.8" y1="888.3" x2="501.4" y2="898.3" stroke="#000" stroke-width="2.475"/>
<line x1="491" y1="1164.2" x2="501" y2="1154.3" stroke="#000" stroke-width="2.475"/>
<line x1="492.9" y1="891" x2="492.9" y2="1160" stroke="#000" stroke-width="1.3" stroke-dasharray="8 7"/>
<line x1="540.4" y1="842.4" x2="540.4" y2="1208" stroke="#000" stroke-width="2.6"/>
<line x1="539.6" y1="1208" x2="539.6" y2="1262" stroke="#000" stroke-width="1.0"/>
<line x1="288.9" y1="1026.7" x2="547.2" y2="1026.7" stroke="#000" stroke-width="1.1" stroke-dasharray="153 6 3 6 34 6 3 6 40 6 3 6"/>
<rect x="327" y="813.5" width="31" height="31.7" fill="none" stroke="#000" stroke-width="1.9"/>
<text x="0" y="0" font-family="Liberation Sans" font-size="21" text-anchor="middle" transform="translate(343,836.6) scale(0.82,1)">A</text>
<line x1="342.8" y1="845.2" x2="342.8" y2="876" stroke="#000" stroke-width="1.0"/>
<polygon points="342.8,874.8 355.5,886.6 330.5,886.6" fill="#000" stroke="none" stroke-width="0"/>
<line x1="342.8" y1="887" x2="342.8" y2="1165" stroke="#000" stroke-width="1.0"/>
<polygon points="342.8,887.5 340.05,902.5 345.55,902.5" fill="#000" stroke="none" stroke-width="0"/>
<polygon points="342.8,1164.5 345.55,1149.5 340.05,1149.5" fill="#000" stroke="none" stroke-width="0"/>
<line x1="540.4" y1="878.1" x2="655.5" y2="877.7" stroke="#000" stroke-width="1.0"/>
<line x1="540.4" y1="886.6" x2="619.4" y2="886.6" stroke="#000" stroke-width="1.0"/>
<line x1="514.9" y1="899.7" x2="584" y2="899.7" stroke="#000" stroke-width="1.0"/>
<line x1="577.6" y1="846.3" x2="577.6" y2="936.5" stroke="#000" stroke-width="1.0"/>
<polygon points="577.6,886.6 580.35,871.6 574.85,871.6" fill="#000" stroke="none" stroke-width="0"/>
<polygon points="577.6,899.7 574.85,914.7 580.35,914.7" fill="#000" stroke="none" stroke-width="0"/>
<text x="0" y="0" font-family="Liberation Sans" font-style="italic" font-size="22" text-anchor="middle" transform="translate(596,895.5) rotate(-90)">g</text>
<line x1="540.4" y1="1164.9" x2="617.3" y2="1164.9" stroke="#000" stroke-width="1.0"/>
<line x1="540.4" y1="1174.8" x2="659.8" y2="1174.8" stroke="#000" stroke-width="1.0"/>
<line x1="611.8" y1="886.6" x2="611.8" y2="1164.9" stroke="#000" stroke-width="1.0"/>
<polygon points="611.8,886.6 609.05,901.6 614.55,901.6" fill="#000" stroke="none" stroke-width="0"/>
<polygon points="611.8,1164.9 614.55,1149.9 609.05,1149.9" fill="#000" stroke="none" stroke-width="0"/>
<line x1="651.5" y1="877.7" x2="651.5" y2="1174.8" stroke="#000" stroke-width="1.0"/>
<polygon points="651.5,877.7 648.75,892.7 654.25,892.7" fill="#000" stroke="none" stroke-width="0"/>
<polygon points="651.5,1174.8 654.25,1159.8 648.75,1159.8" fill="#000" stroke="none" stroke-width="0"/>
<text x="0" y="0" font-family="Liberation Sans" font-style="italic" font-size="22" transform="translate(601.5,1041.5) rotate(-90)">d<tspan font-size="14" dy="5.5">1</tspan></text>
<text x="0" y="0" font-family="Liberation Sans" font-style="italic" font-size="22" transform="translate(643.5,1044.5) rotate(-90)">d<tspan font-size="14" dy="5.5">2</tspan></text>
<line x1="576.3" y1="1135.3" x2="576.3" y2="1218" stroke="#000" stroke-width="1.0"/>
<polygon points="576.3,1164.9 579.05,1149.9 573.55,1149.9" fill="#000" stroke="none" stroke-width="0"/>
<polygon points="576.3,1174.8 573.55,1189.8 579.05,1189.8" fill="#000" stroke="none" stroke-width="0"/>
<text x="0" y="0" font-family="Liberation Sans" font-style="italic" font-size="19" text-anchor="middle" transform="translate(571,1202) rotate(-90)">(t)</text>
<line x1="493.6" y1="1174.6" x2="493.6" y2="1222" stroke="#000" stroke-width="1.0"/>
<line x1="514.9" y1="1174.6" x2="514.9" y2="1327" stroke="#000" stroke-width="1.0"/>
<line x1="470.4" y1="1216.8" x2="530.5" y2="1216.8" stroke="#000" stroke-width="1.0"/>
<polygon points="493.6,1216.8 478.6,1214.05 478.6,1219.55" fill="#000" stroke="none" stroke-width="0"/>
<polygon points="514.9,1216.8 529.9,1219.55 529.9,1214.05" fill="#000" stroke="none" stroke-width="0"/>
<text x="500.4" y="1234" font-family="Liberation Sans" font-size="19" text-anchor="middle" style="font-style:italic" >m</text>
<line x1="485.4" y1="1247.5" x2="570.6" y2="1247.5" stroke="#000" stroke-width="1.0"/>
<polygon points="514.9,1247.5 499.9,1244.75 499.9,1250.25" fill="#000" stroke="none" stroke-width="0"/>
<polygon points="539.6,1247.5 554.6,1250.25 554.6,1244.75" fill="#000" stroke="none" stroke-width="0"/>
<text x="526" y="1245" font-family="Liberation Sans" font-size="19" text-anchor="middle" style="font-style:italic" >n</text>
<line x1="526.6" y1="1107" x2="691" y2="1107" stroke="#000" stroke-width="1.0"/>
<line x1="526.6" y1="1107" x2="526.6" y2="1174" stroke="#000" stroke-width="1.0"/>
<polygon points="526.6,1174.3 529.35,1159.3 523.85,1159.3" fill="#000" stroke="none" stroke-width="0"/>
<rect x="340.8" y="1249.5" width="122.9" height="33.5" fill="none" stroke="#000" stroke-width="1.9"/>
<line x1="371.8" y1="1249.5" x2="371.8" y2="1283" stroke="#000" stroke-width="1.9"/>
<line x1="432" y1="1249.5" x2="432" y2="1283" stroke="#000" stroke-width="1.9"/>
<line x1="347.3" y1="1274.25" x2="365.3" y2="1274.25" stroke="#000" stroke-width="2.3"/>
<line x1="356.3" y1="1258.75" x2="356.3" y2="1274.25" stroke="#000" stroke-width="2.3"/>
<text x="0" y="0" font-family="Liberation Sans" font-size="23.5" text-anchor="middle" transform="translate(401.6,1277.5) scale(0.8,1)">0,02 <tspan font-style="italic">t</tspan></text>
<text x="0" y="0" font-family="Liberation Sans" font-size="23" text-anchor="middle" transform="translate(445.5,1277.5) scale(0.8,1)">A</text>
<rect x="340.8" y="1297" width="122.9" height="31.7" fill="none" stroke="#000" stroke-width="1.9"/>
<line x1="371.8" y1="1297" x2="371.8" y2="1328.7" stroke="#000" stroke-width="1.9"/>
<line x1="432" y1="1297" x2="432" y2="1328.7" stroke="#000" stroke-width="1.9"/>
<line x1="347.3" y1="1321.85" x2="362.3" y2="1306.85" stroke="#000" stroke-width="1.3"/>
<polygon points="364.3,1304.85 355.11,1309.8 359.35,1314.04" fill="#000" stroke="none" stroke-width="0"/>
<text x="0" y="0" font-family="Liberation Sans" font-size="23.5" text-anchor="middle" transform="translate(403,1322.2) scale(0.8,1)">0,1 <tspan font-style="italic">t</tspan></text>
<text x="0" y="0" font-family="Liberation Sans" font-size="23" text-anchor="middle" transform="translate(445.5,1322.2) scale(0.8,1)">A</text>
<rect x="691" y="1091.9" width="121.4" height="30.4" fill="none" stroke="#000" stroke-width="1.9"/>
<line x1="721.3" y1="1091.9" x2="721.3" y2="1122.3" stroke="#000" stroke-width="1.9"/>
<line x1="782.7" y1="1091.9" x2="782.7" y2="1122.3" stroke="#000" stroke-width="1.9"/>
<line x1="697.15" y1="1116.1" x2="712.15" y2="1101.1" stroke="#000" stroke-width="1.3"/>
<polygon points="714.15,1099.1 704.96,1104.05 709.2,1108.29" fill="#000" stroke="none" stroke-width="0"/>
<text x="0" y="0" font-family="Liberation Sans" font-size="23.5" text-anchor="middle" transform="translate(751,1114.7) scale(0.8,1)">0,15 <tspan font-style="italic">t</tspan></text>
<text x="0" y="0" font-family="Liberation Sans" font-size="23" text-anchor="middle" transform="translate(796.5,1114.7) scale(0.8,1)">A</text>
<line x1="463.7" y1="1266.9" x2="514.9" y2="1266.9" stroke="#000" stroke-width="1.0"/>
<polygon points="514.9,1266.9 499.9,1264.15 499.9,1269.65" fill="#000" stroke="none" stroke-width="0"/>
<line x1="463.7" y1="1313" x2="514.9" y2="1313" stroke="#000" stroke-width="1.0"/>
<polygon points="514.9,1313 499.9,1310.25 499.9,1315.75" fill="#000" stroke="none" stroke-width="0"/>
<circle cx="637" cy="937.2" r="0.9" fill="#000"/>
</svg></body></html>
